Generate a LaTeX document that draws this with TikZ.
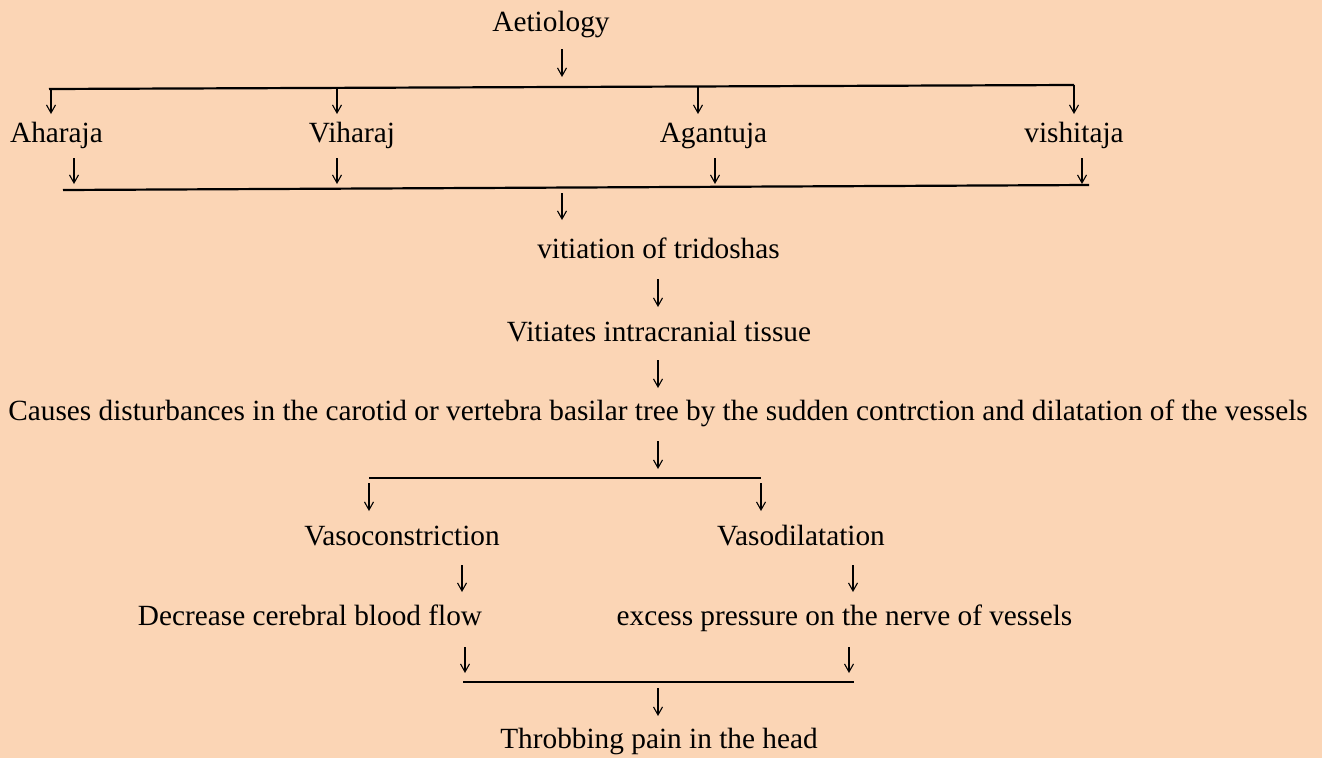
\documentclass[tikz,border=0pt]{standalone}
\usepackage{fontspec}
\setmainfont{Liberation Serif}
\usetikzlibrary{arrows.meta,calc}
\definecolor{peach}{HTML}{FBD5B5}
\begin{document}
\begin{tikzpicture}[x=1pt,y=-1pt,
  lbl/.style={inner sep=0pt,anchor=base,font=\fontsize{29.3}{34}\selectfont},
  arr/.style={line width=1.2pt,-{Straight Barb[length=8pt,width=9pt,line width=1.1pt]}},
  bar/.style={line width=2.2pt}]
\fill[peach] (0,0) rectangle (1322,758);
\useasboundingbox (0,0) rectangle (1322,758);
% nodes
\node[lbl] (ae) at (551,31) {Aetiology};
\node[lbl] (a1) at (56.5,142) {Aharaja};
\node[lbl] (a2) at (352,142) {Viharaj};
\node[lbl] (a3) at (713.5,142) {Agantuja};
\node[lbl] (a4) at (1074,142) {vishitaja};
\node[lbl] (vt) at (658.5,258) {vitiation of tridoshas};
\node[lbl] (vi) at (659,341) {Vitiates intracranial tissue};
\node[lbl] (ca) at (658,420) {Causes disturbances in the carotid or vertebra basilar tree by the sudden contrction and dilatation of the vessels};
\node[lbl] (vc) at (402,545) {Vasoconstriction};
\node[lbl] (vd) at (801,545) {Vasodilatation};
\node[lbl] (dc) at (310,625) {Decrease cerebral blood flow};
\node[lbl] (ex) at (844.5,625) {excess pressure on the nerve of vessels};
\node[lbl] (th) at (659,748) {Throbbing pain in the head};
% bars
\coordinate (b1l) at (49,89);   \coordinate (b1r) at (1074,85);
\coordinate (b2l) at (63,190);  \coordinate (b2r) at (1089,185);
\coordinate (b3l) at (369,478); \coordinate (b3r) at (761,478);
\coordinate (b4l) at (463,682); \coordinate (b4r) at (854,682);
\draw[bar] (b1l) -- (b1r);
\draw[bar] (b2l) -- (b2r);
\draw[bar] (b3l) -- (b3r);
\draw[bar] (b4l) -- (b4r);
% arrows
\draw[arr] ([xshift=11pt,yshift=-18pt]ae.base) -- ++(0,28);
\draw[arr] ([xshift=-5.5pt,yshift=52pt]a1.base) -- ++(0,24);
\draw[arr] ([xshift=-15pt,yshift=54pt]a2.base) -- ++(0,26);
\draw[arr] ([xshift=-15.5pt,yshift=56pt]a3.base) -- ++(0,28);
\draw[arr] ([xshift=0pt,yshift=57pt]a4.base) -- ++(0,29);
\draw[arr] ([xshift=17.5pt,yshift=-16pt]a1.base) -- ++(0,26);
\draw[arr] ([xshift=-15pt,yshift=-16pt]a2.base) -- ++(0,26);
\draw[arr] ([xshift=1.5pt,yshift=-16pt]a3.base) -- ++(0,26);
\draw[arr] ([xshift=8pt,yshift=-16pt]a4.base) -- ++(0,26);
\draw[arr] ([xshift=-96.5pt,yshift=65pt]vt.base) -- ++(0,27);
\draw[arr] ([xshift=-0.5pt,yshift=-21pt]vt.base) -- ++(0,28);
\draw[arr] ([xshift=-1pt,yshift=-19pt]vi.base) -- ++(0,28);
\draw[arr] ([xshift=0pt,yshift=-21pt]ca.base) -- ++(0,28);
\draw[arr] ([xshift=-33pt,yshift=62pt]vc.base) -- ++(0,28);
\draw[arr] ([xshift=-40pt,yshift=62pt]vd.base) -- ++(0,28);
\draw[arr] ([xshift=60pt,yshift=-20pt]vc.base) -- ++(0,27);
\draw[arr] ([xshift=52pt,yshift=-20pt]vd.base) -- ++(0,27);
\draw[arr] ([xshift=155pt,yshift=-22pt]dc.base) -- ++(0,26);
\draw[arr] ([xshift=4.5pt,yshift=-22pt]ex.base) -- ++(0,26);
\draw[arr] ([xshift=-1pt,yshift=60pt]th.base) -- ++(0,28);
\end{tikzpicture}
\end{document}
